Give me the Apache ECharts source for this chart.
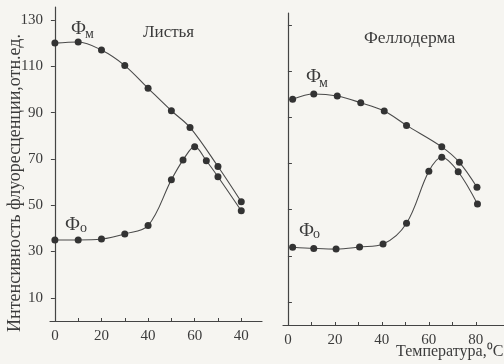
<!DOCTYPE html>
<html><head><meta charset="utf-8">
<script src="https://cdn.jsdelivr.net/npm/echarts@6/dist/echarts.min.js"></script>
<style>html,body{margin:0;padding:0;background:#f6f5f1}#c{width:504px;height:364px}</style>
</head><body><div id="c"></div>
<script>
// Left panel: Листья
const leftFmT = [0, 10, 20, 30, 40, 50, 58, 70, 80];
const leftFmV = [120, 120.5, 117, 110.3, 100.5, 90.8, 83.6, 66.7, 51.5];
const leftFoT = [0, 10, 20, 30, 40, 50, 55, 60, 65, 70, 80];
const leftFoV = [35, 35, 35.4, 37.6, 41.2, 61, 69.5, 75.3, 69.2, 62.3, 47.6];
// Right panel: Феллодерма
const rightFmT = [2, 11, 21, 31, 41, 50.5, 65.5, 73, 80.5];
const rightFmV = [97.8, 100.1, 99.2, 96.3, 92.7, 86.5, 77.2, 70.5, 59.7];
const rightFoT = [2, 11, 20.5, 30.5, 40.5, 50.5, 60, 65.5, 72.5, 80.7];
const rightFoV = [33.7, 33.2, 32.9, 33.8, 35.1, 44.1, 66.6, 72.7, 66.4, 52.4];
// Ticks and labels
const yTicks = [10, 30, 50, 70, 90, 110, 130];
const xTicks = [0, 10, 20, 30, 40, 50, 60, 70, 80];
const xLabelVals = [0, 20, 40, 60, 80];
const leftXLabels = ['0', '20', '40', '60', '40'];
const rightXLabels = ['0', '20', '40', '60', '80'];
const yTitle = 'Интенсивность флуоресценции,отн.ед.';
const xTitle = 'Температура,⁰С';
const leftPanel = 'Листья';
const rightPanel = 'Феллодерма';

const FONT = 'Liberation Serif';
const INK = '#3b3b3b';
const pairs = (t, v) => t.map((x, i) => [x, v[i]]);

const chart = echarts.init(document.getElementById('c'), null, {renderer: 'canvas'});
const lineSeries = (data, xi) => ({
  type: 'line', xAxisIndex: xi, yAxisIndex: xi, data,
  smooth: 0.35, symbol: 'circle', symbolSize: 7, showSymbol: true,
  lineStyle: {color: '#4a4a4a', width: 1.1},
  itemStyle: {color: '#333'}, emphasis: {disabled: true}, animation: false
});
const xAxisCommon = (labels) => ({
  type: 'value',
  axisLine: {show: true, lineStyle: {color: '#444', width: 1.2}},
  axisTick: {show: true, inside: true, length: 3, customValues: xTicks, lineStyle: {color: '#444'}},
  axisLabel: {customValues: xLabelVals, color: INK, fontFamily: FONT, fontSize: 15, margin: 8,
    formatter: v => labels[xLabelVals.indexOf(v)]},
  splitLine: {show: false}
});
const yAxisCommon = (showLabels, inside) => ({
  type: 'value', min: 0,
  axisLine: {show: true, lineStyle: {color: '#444', width: 1.2}},
  axisTick: {show: true, inside, length: 4, customValues: yTicks, lineStyle: {color: '#444'}},
  axisLabel: {show: showLabels, customValues: yTicks, color: INK, fontFamily: FONT, fontSize: 15, margin: 7},
  splitLine: {show: false}
});
const txt = (text, x, y, size, extra) => Object.assign({
  type: 'text', x, y, silent: true,
  style: {text, fill: INK, font: size + 'px "' + FONT + '"', align: 'left', verticalAlign: 'middle'}
}, extra || {});

chart.setOption({
  backgroundColor: '#f6f5f1',
  animation: false,
  grid: [
    {left: 50, right: 242, top: 7, bottom: 43},
    {left: 283, right: 0, top: 13, bottom: 39}
  ],
  xAxis: [
    Object.assign(xAxisCommon(leftXLabels), {gridIndex: 0, min: -2.1, max: 88.9}),
    Object.assign(xAxisCommon(rightXLabels), {gridIndex: 1, min: -2.1, max: 92})
  ],
  yAxis: [
    Object.assign(yAxisCommon(true, false), {gridIndex: 0, max: 135.6}),
    Object.assign(yAxisCommon(false, true), {gridIndex: 1, max: 135.2})
  ],
  series: [
    lineSeries(pairs(leftFmT, leftFmV), 0),
    lineSeries(pairs(leftFoT, leftFoV), 0),
    lineSeries(pairs(rightFmT, rightFmV), 1),
    lineSeries(pairs(rightFoT, rightFoV), 1)
  ],
  graphic: [
    txt(yTitle, 15, 183, 18, {rotation: Math.PI / 2, style: {text: yTitle, fill: INK, font: '18px "' + FONT + '"', align: 'center', verticalAlign: 'middle'}}),
    txt(xTitle, 396, 352, 16),
    txt(leftPanel, 143, 33, 17),
    txt(rightPanel, 364, 38, 17.5),
    txt('Ф', 71, 29, 19), txt('м', 85, 34, 14),
    txt('Ф', 65, 225, 19), txt('о', 80, 228, 14),
    txt('Ф', 306, 77, 19), txt('м', 319, 83, 14),
    txt('Ф', 299, 231, 19), txt('о', 313, 234, 14)
  ]
});
</script>
</body></html>
